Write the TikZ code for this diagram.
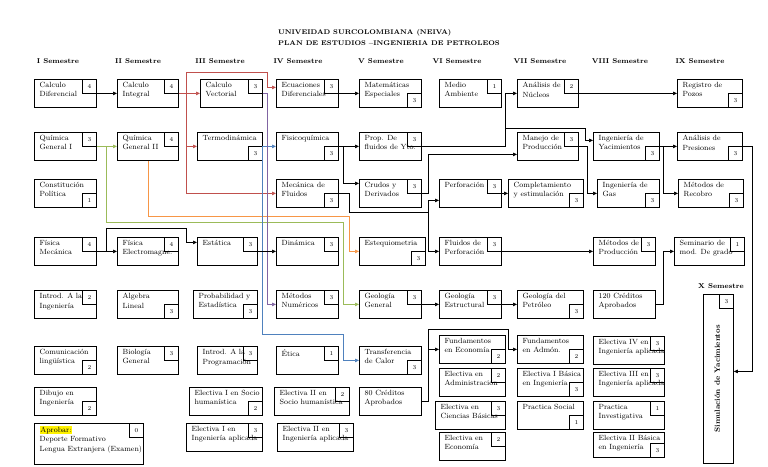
\documentclass[tikz,border=0pt]{standalone}
\usepackage{fontspec}
\usepackage{xcolor}
\usetikzlibrary{arrows.meta}
\definecolor{rojo}{HTML}{C0504D}
\definecolor{verde}{HTML}{9BBB59}
\definecolor{naranja}{HTML}{F79646}
\definecolor{azul}{HTML}{4F81BD}
\definecolor{morado}{HTML}{8064A2}
\setlength{\fboxsep}{0.6pt}

\begin{document}
\begin{tikzpicture}[x=1pt, y=-1pt,
    curso/.style={draw, line width=0.8pt, minimum width=#1, minimum height=28, anchor=north west, inner sep=0pt},
    curso/.default=62,
    nom/.style={anchor=north west, align=left, inner xsep=5.5pt, inner ysep=3pt, font=\fontsize{7.5}{9.5}\selectfont},
    num/.style={draw, line width=0.6pt, minimum size=14, inner sep=0pt, font=\fontsize{6}{7}\selectfont},
    txt/.style={label={[nom]north west:{#1}}},
    tr/.style={label={[num, anchor=north east]north east:#1}},
    br/.style={label={[num, anchor=south east]south east:#1}},
    semestre/.style={font=\bfseries\fontsize{7}{8}\selectfont, inner sep=0pt},
    flecha/.style={-{Triangle[length=4pt,width=3.5pt]}, line width=0.7pt}
]
\useasboundingbox (0,0) rectangle (768,466);

\node[anchor=north west, align=left, inner sep=0pt, font=\bfseries\fontsize{6.8}{11}\selectfont] (tit) at (278,29)
    {{\addfontfeature{LetterSpace=10}UNIVEIDAD SURCOLOMBIANA (NEIVA)}\\PLAN DE ESTUDIOS --INGENIERIA DE PETROLEOS};

\foreach \x/\s [count=\i] in {58/I, 138/II, 220/III, 298/IV, 381/V, 457/VI, 540/VII, 620/VIII, 700/IX}
    \node[semestre] (s\i) at (\x,61) {\s\ Semestre};
\node[semestre] (s10) at (721,286) {X Semestre};

% I semestre
\node[curso, txt={Calculo\\Diferencial}, tr=4] (cdif) at (34,79) {};
\node[curso, txt={Química\\General I}, tr=3] (qg1) at (34,132) {};
\node[curso, txt={Constitución\\Política}, br=1] (cpol) at (34,179) {};
\node[curso, txt={Física\\Mecánica}, tr=4] (fmec) at (34,237) {};
\node[curso, txt={Introd. A la\\Ingeniería}, tr=2] (iing) at (34,290) {};
\node[curso, txt={Comunicación\\lingüística}, br=2] (clin) at (34,346) {};
\node[curso, txt={Dibujo en\\Ingeniería}, br=2] (ding) at (34,387) {};
\node[curso=109, minimum height=41, txt={\colorbox{yellow}{Aprobar:}\\Deporte Formativo\\Lengua Extranjera (Examen)}, tr=0] (apro) at (34,423) {};

% II semestre
\node[curso=61, txt={Calculo\\Integral}, tr=4] (cint) at (117,79) {};
\node[curso=61, txt={Química\\General II}, tr=4] (qg2) at (117,132) {};
\node[curso=61, txt={Física\\Electromagne.}, tr=4] (felec) at (117,237) {};
\node[curso=61, txt={Algebra\\Lineal}, br=3] (alin) at (117,290) {};
\node[curso=61, txt={Biología\\General}, tr=3] (bio) at (117,346) {};

% III semestre
\node[curso, txt={Calculo\\Vectorial}, tr=3] (cvec) at (200,79) {};
\node[curso=65, txt={Termodinámica}, br=3] (termo) at (197,132) {};
\node[curso=60, txt={Estática}, tr=3] (esta) at (197,237) {};
\node[curso=64, txt={Probabilidad y\\Estadística}, br=3] (prob) at (193,290) {};
\node[curso=60, txt={Introd. A la\\Programación}, tr=3] (iprog) at (197,346) {};
\node[curso=73, txt={Electiva I en Socio\\humanística}, br=2] (esoc1) at (189,387) {};
\node[curso=76, txt={Electiva I en\\Ingeniería aplicada}, tr=3] (eing1) at (186,423) {};

% IV semestre
\node[curso, txt={Ecuaciones\\Diferenciales}, tr=3] (ecd) at (276,79) {};
\node[curso, txt={Fisicoquímica}, br=3] (fisq) at (276,132) {};
\node[curso, txt={Mecánica de\\Fluidos}, br=3] (mfl) at (276,179) {};
\node[curso, txt={Dinámica}, tr=3] (dina) at (276,237) {};
\node[curso, txt={Métodos\\Numéricos}, tr=3] (mnum) at (276,290) {};
\node[curso, txt={Ética}, tr=1] (etica) at (276,346) {};
\node[curso=75, txt={Electiva II en\\Socio humanística}, tr=2] (esoc2) at (274,387) {};
\node[curso=76, txt={Electiva II en\\Ingeniería aplicada}, tr=3] (eing2) at (277,423) {};

% V semestre
\node[curso, txt={Matemáticas\\Especiales}, br=3] (mesp) at (359,79) {};
\node[curso, txt={Prop. De\\fluidos de Yto.}, tr=3] (pfy) at (359,132) {};
\node[curso, txt={Crudos y\\Derivados}, tr=3] (crudos) at (359,179) {};
\node[curso=66, txt={Estequiometria}, br=3] (esteq) at (359,237) {};
\node[curso, txt={Geología\\General}, tr=3] (geog) at (359,290) {};
\node[curso, txt={Transferencia\\de Calor}, br=3] (tcal) at (359,346) {};
\node[curso, txt={80 Créditos\\Aprobados}] (c80) at (359,387) {};

% VI semestre
\node[curso, txt={Medio\\Ambiente}, tr=1] (mamb) at (439,79) {};
\node[curso, txt={Perforación}, tr=3] (perf) at (439,179) {};
\node[curso, txt={Fluidos de\\Perforación}, tr=3] (fperf) at (439,237) {};
\node[curso, txt={Geología\\Estructural}, tr=3] (geoe) at (439,290) {};
\node[curso=66, txt={Fundamentos\\en Economía}, br=2] (feco) at (439,335) {};
\node[curso=66, txt={Electiva en\\Administración}, tr=2] (eadm) at (439,368) {};
\node[curso=70, txt={Electiva en\\Ciencias Básicas}, tr=3] (ecb) at (435,401) {};
\node[curso=66, txt={Electiva en\\Economía}, tr=2] (eeco) at (439,432) {};

% VII semestre
\node[curso=61, txt={Análisis de\\Núcleos}, tr=2] (anuc) at (517,79) {};
\node[curso=61, txt={Manejo de\\Producción}, tr=3] (mprod) at (517,132) {};
\node[curso=75, txt={Completamiento\\y estimulación}, br=3] (comp) at (508,179) {};
\node[curso=66, txt={Geología del\\Petróleo}, br=3] (geop) at (517,290) {};
\node[curso=66, txt={Fundamentos\\en Admón.}, br=2] (fadm) at (517,335) {};
\node[curso=66, txt={Electiva I Básica\\en Ingeniería}, br=3] (eib1) at (517,368) {};
\node[curso=66, txt={Practica Social}, br=1] (psoc) at (517,401) {};

% VIII semestre
\node[curso=66, txt={Ingeniería de\\Yacimientos}, br=3] (iyac) at (593,132) {};
\node[curso, txt={Ingeniería de\\Gas}, br=3] (igas) at (597,179) {};
\node[curso, txt={Métodos de\\Producción}, tr=3] (metp) at (593,237) {};
\node[curso, txt={120 Créditos\\Aprobados}] (c120) at (593,290) {};
\node[curso=71, txt={Electiva IV en\\Ingeniería aplicada}, tr=3] (eing4) at (593,336) {};
\node[curso=71, txt={Electiva III en\\Ingeniería aplicada}, tr=3] (eing3) at (593,368) {};
\node[curso=71, txt={Practica\\Investigativa}, tr=1] (pinv) at (593,401) {};
\node[curso=71, minimum height=25, txt={Electiva II Básica\\en Ingeniería}, br=3] (eib2) at (593,432) {};

% IX semestre
\node[curso=65, txt={Registro de\\Pozos}, br=3] (rpoz) at (677,79) {};
\node[curso=65, txt={Análisis de\\Presiones}, br=3] (apres) at (677,132) {};
\node[curso=65, txt={Métodos de\\Recobro}, br=3] (mrec) at (678,179) {};
\node[curso=70, txt={Seminario de\\mod. De grado}, tr=1] (sem) at (674,237) {};

% X semestre
\node[curso=30, minimum height=169, tr=3] (sim) at (703,294) {};
\node[rotate=90, font=\bfseries\fontsize{7.5}{9}\selectfont] (simt) at ([xshift=-1]sim.center) {Simulación de Yacimientos};

% prerrequisitos de color
\draw[flecha, rojo] (cint.east) -- (cvec.west);
\draw[flecha, rojo] (cint.east) -- ++(8,0) |- (267,72) |- ([yshift=6]ecd.west);
\draw[flecha, rojo] ([xshift=8]cint.east) |- (termo.west);
\draw[flecha, rojo] ([xshift=8]cint.east) |- (mfl.west);
\draw[flecha, verde] (qg1.east) -- (qg2.west);
\draw[flecha, verde] ([xshift=10]qg1.east) |- (343,222) |- (geog.west);
\draw[flecha, naranja] (qg2.south) |- (349,216) |- (esteq.west);
\draw[flecha, azul] (termo.east) -- (fisq.west);
\draw[flecha, azul] (termo.east) |- (343,334) |- (tcal.west);
\draw[flecha, morado] (cvec.east) -- ++(5,0) |- (mnum.west);

% prerrequisitos
\draw[flecha] (cdif.east) -- (cint.west);
\draw[flecha] (fmec.east) -- (felec.west);
\draw[flecha] (fmec.east) -- ++(10,0) |- (186,228) |- ([yshift=9]esta.west);
\draw[flecha] (esta.east) -- (dina.west);
\draw[flecha] (ecd.east) -- (mesp.west);
\draw[flecha] (fisq.east) -- (pfy.west);
\draw[flecha] (fisq.east) -- ++(5,0) |- ([yshift=10]crudos.west);
\draw[flecha] (mfl.east) -- ++(11,0) |- (428,212) |- ([yshift=-7]perf.west);
\draw[flecha] ([xshift=11]mfl.east) |- (428,212) |- (fperf.west);
\draw[flecha] (crudos.east) -- ++(7,0) |- ([yshift=-8]mprod.west);
\draw[flecha] (pfy.east) -- ++(84,0) |- (anuc.west);
\draw[flecha] ([xshift=84]pfy.east) |- (585,128) |- ([yshift=6]iyac.west);
\draw[flecha] (mprod.east) -- ++(9,0) |- (igas.west);
\draw[flecha] (anuc.east) -- (rpoz.west);
\draw[flecha] (iyac.east) -- (apres.west);
\draw[flecha] (iyac.east) -- ++(4,0) |- (mrec.west);
\draw[flecha] (perf.east) -- (comp.west);
\draw[flecha] (fperf.east) -- (metp.west);
\draw[flecha] (geog.east) -- (geoe.west);
\draw[flecha] (geoe.east) -- (geop.west);
\draw[flecha] (c120.east) -- ++(8,0) |- (sem.west);
\draw[flecha] (c80.east) -- ++(7,0) |- (feco.west);
\draw[flecha] ([xshift=7]c80.east) |- (508,329) |- (fadm.west);
\draw[flecha] (apres.east) -- ++(10,0) |- ([yshift=7.5]sim.east);
\end{tikzpicture}
\end{document}
